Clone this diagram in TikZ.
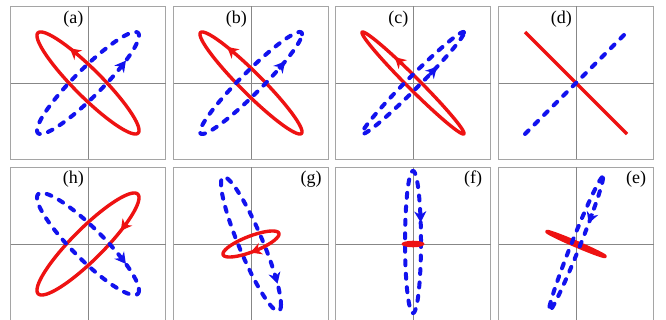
\documentclass[tikz,border=0pt]{standalone}
\usepackage{fontspec}
\setmainfont{Liberation Serif}
\usetikzlibrary{arrows.meta}
\definecolor{myred}{RGB}{238,18,18}
\definecolor{myblue}{RGB}{18,18,238}
\definecolor{framegray}{RGB}{165,165,165}
\definecolor{axisgray}{RGB}{135,135,135}
\tikzset{
  framebox/.style={draw=framegray, line width=0.9pt},
  axisline/.style={draw=axisgray, line width=0.9pt},
  redcurve/.style={draw=myred, line width=3.4pt, line join=round},
  bluecurve/.style={draw=myblue, line width=4pt, line cap=round, dash pattern=on 5pt off 8.5pt},
  redtip/.style={draw=myred, line width=3.4pt, -{Stealth[length=11pt,width=12pt,inset=3.5pt]}},
  bluetip/.style={draw=myblue, line width=3.4pt, solid, -{Stealth[length=11pt,width=12pt,inset=3.5pt]}},
  panellabel/.style={anchor=base, inner sep=0pt, font=\fontsize{18}{20}\selectfont}
}
% ellipse x = A cos t, y = B cos(t+p)
\newcommand\ellplot[4]{\draw[#1] plot[domain=0:360,samples=181] ({#2*cos(\x)},{#3*cos(\x+#4)}) -- cycle;}
\newcommand\tipplot[5]{\draw[#1] ({#2*cos(#5-4)},{#3*cos(#5-4+#4)}) -- ({#2*cos(#5+5)},{#3*cos(#5+5+#4)});}
\newcommand\panelframe{%
  \draw[framebox] (-77.5,-76.5) rectangle (77.5,76.5);
  \draw[axisline] (-77.5,0) -- (77.5,0);
  \draw[axisline] (0,-76.5) -- (0,76.5);}
\begin{document}
\begin{tikzpicture}[x=1pt,y=1pt]
\clip (0,0) rectangle (666,320);
\fill[white] (0,0) rectangle (666,320);
% ---------- row 1 ----------
\begin{scope}[shift={(88,237)}]
  \panelframe
  \ellplot{redcurve}{51}{-51}{22}
  \ellplot{bluecurve}{51}{51}{-22}
  \tipplot{redtip}{51}{-51}{22}{106}
  \tipplot{bluetip}{51}{51}{-22}{313}
  \node[panellabel] (la) at (-14.7,59) {(a)};
\end{scope}
\begin{scope}[shift={(251,237)}]
  \panelframe
  \ellplot{redcurve}{51}{-51}{17}
  \ellplot{bluecurve}{51}{51}{-17}
  \tipplot{redtip}{51}{-51}{17}{113}
  \tipplot{bluetip}{51}{51}{-17}{307}
  \node[panellabel] (lb) at (-14.7,59) {(b)};
\end{scope}
\begin{scope}[shift={(413,237)}]
  \panelframe
  \ellplot{redcurve}{51}{-51}{9.6}
  \ellplot{bluecurve}{51}{51}{-9.6}
  \tipplot{redtip}{51}{-51}{9.6}{106}
  \tipplot{bluetip}{51}{51}{-9.6}{293}
  \node[panellabel] (lc) at (-14.7,59) {(c)};
\end{scope}
\begin{scope}[shift={(576,237)}]
  \panelframe
  \draw[redcurve] (-51,51) -- (51,-51);
  \draw[bluecurve] (-51,-51) -- (51,51);
  \node[panellabel] (ld) at (-14.7,59) {(d)};
\end{scope}
% ---------- row 2 ----------
\begin{scope}[shift={(88,76)}]
  \panelframe
  \ellplot{redcurve}{51}{51}{25}
  \ellplot{bluecurve}{51}{-51}{-25}
  \tipplot{redtip}{51}{51}{25}{45}
  \tipplot{bluetip}{51}{-51}{-25}{313}
  \node[panellabel] (lh) at (-14.7,60) {(h)};
\end{scope}
\begin{scope}[shift={(251,76)}]
  \panelframe
  \ellplot{bluecurve}{30}{-67}{-25.7}
  \ellplot{redcurve}{28}{13}{40}
  \tipplot{redtip}{28}{13}{40}{86}
  \tipplot{bluetip}{30}{-67}{-25.7}{327}
  \node[panellabel] (lg) at (60,60) {(g)};
\end{scope}
\begin{scope}[shift={(413,76)}]
  \panelframe
  \begin{scope}[shift={(0,2)}]
    \ellplot{bluecurve}{8}{71}{90}
    \tipplot{bluetip}{8}{71}{90}{339}
  \end{scope}
  \fill[myred] (0,0) ellipse [x radius=11.5, y radius=3.3];
  \node[panellabel] (lf) at (60,60) {(f)};
\end{scope}
\begin{scope}[shift={(576,76)}]
  \panelframe
  \ellplot{redcurve}{29}{-12.5}{-8.6}
  \ellplot{bluecurve}{27}{67}{10}
  \tipplot{bluetip}{27}{67}{10}{57}
  \node[panellabel] (le) at (60,60) {(e)};
\end{scope}
\end{tikzpicture}
\end{document}
